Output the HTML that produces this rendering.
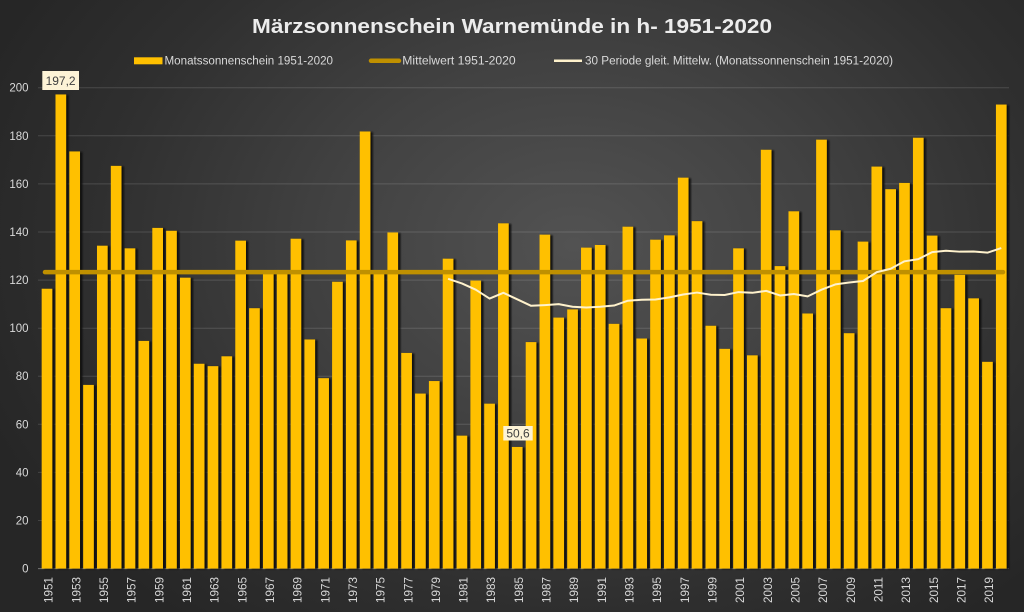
<!DOCTYPE html>
<html>
<head>
<meta charset="utf-8">
<style>
  html,body{margin:0;padding:0;}
  body{width:1024px;height:612px;overflow:hidden;
    background:radial-gradient(ellipse 62% 78% at 56% 40%, #525252 0%, #414141 40%, #2f2f2f 75%, #262626 100%);}
  svg{display:block;font-family:"Liberation Sans",sans-serif;}
</style>
</head>
<body>
<svg width="1024" height="612" viewBox="0 0 1024 612" xmlns="http://www.w3.org/2000/svg">
  <defs>
    <filter id="blur" x="-20%" y="-5%" width="140%" height="110%">
      <feGaussianBlur stdDeviation="0.8"/>
    </filter>
    <g id="bars" transform="translate(40.1,568.6) scale(13.83,-2.4045)">
      <rect x="0.113" y="0" width="0.774" height="116.4"/>
      <rect x="1.113" y="0" width="0.774" height="197.2"/>
      <rect x="2.113" y="0" width="0.774" height="173.5"/>
      <rect x="3.113" y="0" width="0.774" height="76.4"/>
      <rect x="4.113" y="0" width="0.774" height="134.3"/>
      <rect x="5.113" y="0" width="0.774" height="167.5"/>
      <rect x="6.113" y="0" width="0.774" height="133.2"/>
      <rect x="7.113" y="0" width="0.774" height="94.7"/>
      <rect x="8.113" y="0" width="0.774" height="141.7"/>
      <rect x="9.113" y="0" width="0.774" height="140.5"/>
      <rect x="10.113" y="0" width="0.774" height="121.0"/>
      <rect x="11.113" y="0" width="0.774" height="85.2"/>
      <rect x="12.113" y="0" width="0.774" height="84.2"/>
      <rect x="13.113" y="0" width="0.774" height="88.3"/>
      <rect x="14.113" y="0" width="0.774" height="136.4"/>
      <rect x="15.113" y="0" width="0.774" height="108.3"/>
      <rect x="16.113" y="0" width="0.774" height="124"/>
      <rect x="17.113" y="0" width="0.774" height="124"/>
      <rect x="18.113" y="0" width="0.774" height="137.2"/>
      <rect x="19.113" y="0" width="0.774" height="95.3"/>
      <rect x="20.113" y="0" width="0.774" height="79.2"/>
      <rect x="21.113" y="0" width="0.774" height="119.3"/>
      <rect x="22.113" y="0" width="0.774" height="136.5"/>
      <rect x="23.113" y="0" width="0.774" height="181.8"/>
      <rect x="24.113" y="0" width="0.774" height="124"/>
      <rect x="25.113" y="0" width="0.774" height="139.8"/>
      <rect x="26.113" y="0" width="0.774" height="89.7"/>
      <rect x="27.113" y="0" width="0.774" height="72.8"/>
      <rect x="28.113" y="0" width="0.774" height="78.0"/>
      <rect x="29.113" y="0" width="0.774" height="128.9"/>
      <rect x="30.113" y="0" width="0.774" height="55.3"/>
      <rect x="31.113" y="0" width="0.774" height="119.8"/>
      <rect x="32.113" y="0" width="0.774" height="68.6"/>
      <rect x="33.113" y="0" width="0.774" height="143.6"/>
      <rect x="34.113" y="0" width="0.774" height="50.6"/>
      <rect x="35.113" y="0" width="0.774" height="94.2"/>
      <rect x="36.113" y="0" width="0.774" height="138.9"/>
      <rect x="37.113" y="0" width="0.774" height="104.4"/>
      <rect x="38.113" y="0" width="0.774" height="107.8"/>
      <rect x="39.113" y="0" width="0.774" height="133.5"/>
      <rect x="40.113" y="0" width="0.774" height="134.6"/>
      <rect x="41.113" y="0" width="0.774" height="101.8"/>
      <rect x="42.113" y="0" width="0.774" height="142.2"/>
      <rect x="43.113" y="0" width="0.774" height="95.7"/>
      <rect x="44.113" y="0" width="0.774" height="136.8"/>
      <rect x="45.113" y="0" width="0.774" height="138.6"/>
      <rect x="46.113" y="0" width="0.774" height="162.6"/>
      <rect x="47.113" y="0" width="0.774" height="144.5"/>
      <rect x="48.113" y="0" width="0.774" height="101.0"/>
      <rect x="49.113" y="0" width="0.774" height="91.4"/>
      <rect x="50.113" y="0" width="0.774" height="133.2"/>
      <rect x="51.113" y="0" width="0.774" height="88.7"/>
      <rect x="52.113" y="0" width="0.774" height="174.2"/>
      <rect x="53.113" y="0" width="0.774" height="125.8"/>
      <rect x="54.113" y="0" width="0.774" height="148.6"/>
      <rect x="55.113" y="0" width="0.774" height="106.1"/>
      <rect x="56.113" y="0" width="0.774" height="178.4"/>
      <rect x="57.113" y="0" width="0.774" height="140.7"/>
      <rect x="58.113" y="0" width="0.774" height="97.9"/>
      <rect x="59.113" y="0" width="0.774" height="136.0"/>
      <rect x="60.113" y="0" width="0.774" height="167.2"/>
      <rect x="61.113" y="0" width="0.774" height="157.8"/>
      <rect x="62.113" y="0" width="0.774" height="160.4"/>
      <rect x="63.113" y="0" width="0.774" height="179.2"/>
      <rect x="64.113" y="0" width="0.774" height="138.5"/>
      <rect x="65.113" y="0" width="0.774" height="108.3"/>
      <rect x="66.113" y="0" width="0.774" height="122.2"/>
      <rect x="67.113" y="0" width="0.774" height="112.4"/>
      <rect x="68.113" y="0" width="0.774" height="86.0"/>
      <rect x="69.113" y="0" width="0.774" height="193.0"/>
    </g>
  </defs>

  <!-- Title -->
  <text x="252" y="33" font-size="20" font-weight="bold" fill="#ececec" textLength="520" lengthAdjust="spacingAndGlyphs">Märzsonnenschein Warnemünde in h- 1951-2020</text>

  <!-- Legend -->
  <rect x="134" y="57.3" width="28.5" height="7" fill="#ffc000"/>
  <text x="164.5" y="64.3" font-size="11.5" fill="#d9d9d9" textLength="168.5" lengthAdjust="spacingAndGlyphs">Monatssonnenschein 1951-2020</text>
  <line x1="371" y1="60.8" x2="399" y2="60.8" stroke="#bf9000" stroke-width="4.5" stroke-linecap="round"/>
  <text x="402.3" y="64.3" font-size="11.5" fill="#d9d9d9" textLength="113.4" lengthAdjust="spacingAndGlyphs">Mittelwert 1951-2020</text>
  <line x1="554" y1="60.8" x2="582" y2="60.8" stroke="#fff2cc" stroke-width="2.5"/>
  <text x="585" y="64.3" font-size="11.5" fill="#d9d9d9" textLength="308" lengthAdjust="spacingAndGlyphs">30 Periode gleit. Mittelw. (Monatssonnenschein 1951-2020)</text>

  <!-- Gridlines -->
  <g stroke="#ffffff" stroke-opacity="0.14" stroke-width="1">
    <line x1="38" y1="520.5" x2="1009" y2="520.5"/>
    <line x1="38" y1="472.4" x2="1009" y2="472.4"/>
    <line x1="38" y1="424.3" x2="1009" y2="424.3"/>
    <line x1="38" y1="376.2" x2="1009" y2="376.2"/>
    <line x1="38" y1="328.2" x2="1009" y2="328.2"/>
    <line x1="38" y1="280.1" x2="1009" y2="280.1"/>
    <line x1="38" y1="232.0" x2="1009" y2="232.0"/>
    <line x1="38" y1="183.9" x2="1009" y2="183.9"/>
    <line x1="38" y1="135.8" x2="1009" y2="135.8"/>
    <line x1="38" y1="87.7" x2="1009" y2="87.7"/>
  </g>
  <line x1="38" y1="568.6" x2="1009" y2="568.6" stroke="#777" stroke-width="1"/>

  <!-- Y labels -->
  <g font-size="11.5" fill="#d9d9d9" text-anchor="end">
    <text x="28.5" y="572.6">0</text>
    <text x="28.5" y="524.5">20</text>
    <text x="28.5" y="476.4">40</text>
    <text x="28.5" y="428.3">60</text>
    <text x="28.5" y="380.2">80</text>
    <text x="28.5" y="332.2">100</text>
    <text x="28.5" y="284.1">120</text>
    <text x="28.5" y="236">140</text>
    <text x="28.5" y="187.9">160</text>
    <text x="28.5" y="139.8">180</text>
    <text x="28.5" y="91.7">200</text>
  </g>

  <!-- Bars -->
  <use href="#bars" fill="#0d0d0d" opacity="0.9" transform="translate(2.4,0.6)" filter="url(#blur)"/>
  <use href="#bars" fill="#ffc000"/>

  <!-- Mean line -->
  <line x1="45" y1="274.2" x2="1003" y2="274.2" stroke="#000" stroke-opacity="0.5" stroke-width="5" stroke-linecap="round" filter="url(#blur)"/>
  <line x1="45" y1="272.1" x2="1003" y2="272.1" stroke="#bf9000" stroke-width="4.5" stroke-linecap="round"/>

  <!-- Moving average -->
  <g transform="translate(40.1,568.6) scale(13.83,-2.4045)">
    <polyline fill="none" stroke="#fff2cc" stroke-width="2" stroke-linejoin="round" vector-effect="non-scaling-stroke"
      points="29.5,120.5 30.5,118.6 31.5,116 32.5,112.3 33.5,114.7 34.5,112 35.5,109.3 36.5,109.6 37.5,110 38.5,108.9 39.5,108.6 40.5,108.9 41.5,109.4 42.5,111.4 43.5,111.8 44.5,111.9 45.5,112.8 46.5,114 47.5,114.8 48.5,113.9 49.5,113.8 50.5,115 51.5,114.7 52.5,115.5 53.5,113.6 54.5,114.2 55.5,113.2 56.5,116 57.5,118.2 58.5,119 59.5,119.6 60.5,123.3 61.5,124.7 62.5,127.8 63.5,128.7 64.5,131.6 65.5,132.2 66.5,131.8 67.5,131.9 68.5,131.4 69.5,133.3"/>
  </g>

  <!-- Data labels -->
  <rect x="42.3" y="71" width="36.7" height="19" fill="#fdf3d6"/>
  <text x="60.6" y="85" font-size="12" fill="#404040" text-anchor="middle">197,2</text>
  <rect x="503.3" y="426" width="29.4" height="14.5" fill="#fdf3d6"/>
  <text x="518" y="437.6" font-size="12" fill="#404040" text-anchor="middle">50,6</text>

  <!-- X labels -->
  <g font-size="11.7" fill="#d9d9d9" text-anchor="end">
    <text transform="translate(52.7,577) rotate(-90)">1951</text>
    <text transform="translate(80.4,577) rotate(-90)">1953</text>
    <text transform="translate(108.0,577) rotate(-90)">1955</text>
    <text transform="translate(135.7,577) rotate(-90)">1957</text>
    <text transform="translate(163.3,577) rotate(-90)">1959</text>
    <text transform="translate(191.0,577) rotate(-90)">1961</text>
    <text transform="translate(218.7,577) rotate(-90)">1963</text>
    <text transform="translate(246.3,577) rotate(-90)">1965</text>
    <text transform="translate(274.0,577) rotate(-90)">1967</text>
    <text transform="translate(301.6,577) rotate(-90)">1969</text>
    <text transform="translate(329.3,577) rotate(-90)">1971</text>
    <text transform="translate(357.0,577) rotate(-90)">1973</text>
    <text transform="translate(384.6,577) rotate(-90)">1975</text>
    <text transform="translate(412.3,577) rotate(-90)">1977</text>
    <text transform="translate(439.9,577) rotate(-90)">1979</text>
    <text transform="translate(467.6,577) rotate(-90)">1981</text>
    <text transform="translate(495.2,577) rotate(-90)">1983</text>
    <text transform="translate(522.9,577) rotate(-90)">1985</text>
    <text transform="translate(550.6,577) rotate(-90)">1987</text>
    <text transform="translate(578.2,577) rotate(-90)">1989</text>
    <text transform="translate(605.9,577) rotate(-90)">1991</text>
    <text transform="translate(633.5,577) rotate(-90)">1993</text>
    <text transform="translate(661.2,577) rotate(-90)">1995</text>
    <text transform="translate(688.9,577) rotate(-90)">1997</text>
    <text transform="translate(716.5,577) rotate(-90)">1999</text>
    <text transform="translate(744.2,577) rotate(-90)">2001</text>
    <text transform="translate(771.8,577) rotate(-90)">2003</text>
    <text transform="translate(799.5,577) rotate(-90)">2005</text>
    <text transform="translate(827.1,577) rotate(-90)">2007</text>
    <text transform="translate(854.8,577) rotate(-90)">2009</text>
    <text transform="translate(882.5,577) rotate(-90)">2011</text>
    <text transform="translate(910.1,577) rotate(-90)">2013</text>
    <text transform="translate(937.8,577) rotate(-90)">2015</text>
    <text transform="translate(965.4,577) rotate(-90)">2017</text>
    <text transform="translate(993.1,577) rotate(-90)">2019</text>
  </g>
</svg>
</body>
</html>
